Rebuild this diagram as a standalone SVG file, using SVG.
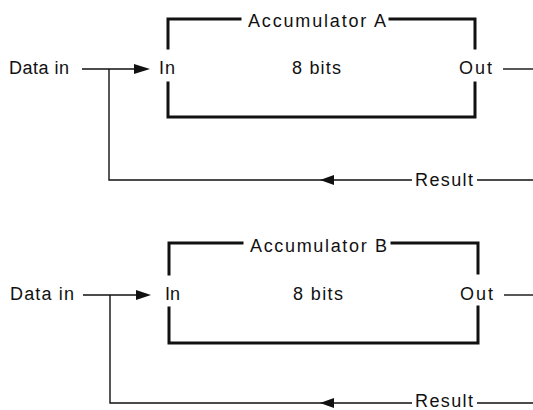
<svg xmlns="http://www.w3.org/2000/svg" width="533" height="410" viewBox="0 0 533 410">
<defs>
<style>
text{font-family:"Liberation Sans",Arial,sans-serif;font-size:18px;fill:#111}
.box{fill:none;stroke:#111;stroke-width:3;stroke-linecap:square}
.wire{fill:none;stroke:#111;stroke-width:1.4}
.ah{fill:#111;stroke:none}
</style>
</defs>
<rect width="533" height="410" fill="#fff"/>
<g id="accA">
<path class="box" d="M168,48 V19 H240 M390,19 H475 V48 M168,83 V117 H475 V83"/>
<text x="248" y="27" textLength="138" lengthAdjust="spacing">Accumulator A</text>
<text x="159" y="74" textLength="16" lengthAdjust="spacing">In</text>
<text x="292" y="74" textLength="49" lengthAdjust="spacing">8 bits</text>
<text x="459" y="74" textLength="33" lengthAdjust="spacing">Out</text>
</g>
<g id="accB">
<path class="box" d="M169,274 V243 H242 M392,243 H478 V273 M169,308 V343 H478 V307"/>
<text x="250" y="252" textLength="137" lengthAdjust="spacing">Accumulator B</text>
<text x="165" y="300">In</text>
<text x="293" y="300" textLength="50" lengthAdjust="spacing">8 bits</text>
<text x="460" y="300" textLength="33" lengthAdjust="spacing">Out</text>
</g>
<g id="labels">
<text x="9" y="74" textLength="60" lengthAdjust="spacing">Data in</text>
<text x="415" y="186" textLength="58" lengthAdjust="spacing">Result</text>
<text x="10" y="300" textLength="64" lengthAdjust="spacing">Data in</text>
<text x="415" y="407" font-size="17" textLength="58" lengthAdjust="spacing">Result</text>
</g>
<g id="connectors">
<path class="wire" d="M82,69 H136"/>
<polygon class="ah" points="150,69 134,64 134,74"/>
<path class="wire" d="M109,69 V180 H412 M477,180 H533"/>
<polygon class="ah" points="320,180 334,175 334,185"/>
<path class="wire" d="M503,69 H533"/>
<path class="wire" d="M83,295 H138"/>
<polygon class="ah" points="151,295 136,290 136,300"/>
<path class="wire" d="M110,295 V403 H412 M477,403 H533"/>
<polygon class="ah" points="320,403 334,398 334,408"/>
<path class="wire" d="M504,295 H533"/>
</g>
</svg>
